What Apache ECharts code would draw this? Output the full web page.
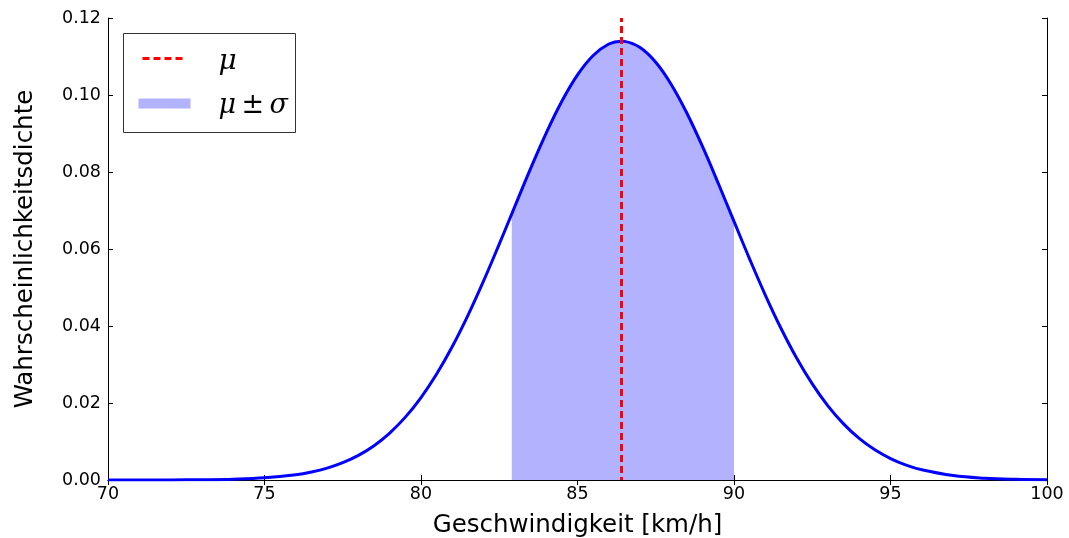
<!DOCTYPE html>
<html>
<head>
<meta charset="utf-8">
<script src="https://cdn.jsdelivr.net/npm/echarts@6/dist/echarts.min.js"></script>
<style>
  html, body { margin: 0; padding: 0; background: #fff; }
  #chart { width: 1069px; height: 538px; }
</style>
</head>
<body>
<div id="chart"></div>
<script>
// Speed values (km/h) and the probability density at each speed
const speedKmh = [70, 71, 72, 73, 74, 75, 76, 76.5, 77, 77.5, 78, 78.5, 79, 79.5, 80, 80.5,
  81, 81.5, 82, 82.5, 82.9, 83, 83.5, 84, 84.5, 85, 85.5, 86, 86.4, 86.5, 87, 87.5, 88, 88.5,
  89, 89.5, 90, 90.5, 91, 91.5, 92, 92.5, 93, 93.5, 94, 94.5, 95, 95.5, 96, 97, 98, 99, 100];
const density = [0.000002, 0.000007, 0.000024, 0.000075, 0.000214, 0.000567, 0.00138, 0.00209,
  0.00309, 0.00450, 0.00640, 0.00892, 0.01220, 0.01633, 0.02142, 0.02753, 0.03467, 0.04278,
  0.05172, 0.06127, 0.06913, 0.07111, 0.08086, 0.09010, 0.09837, 0.10522, 0.11027, 0.11324,
  0.11398, 0.11393, 0.11232, 0.10849, 0.10267, 0.09520, 0.08650, 0.07700, 0.06716,
  0.05739, 0.04805, 0.03942, 0.03169, 0.02496, 0.01926, 0.01457, 0.01079, 0.00783, 0.00557,
  0.00388, 0.00265, 0.00116, 0.00047, 0.00017, 0.00006];

// Mean and the one-sigma band limits
const muValue = 86.4;
const bandLow = 82.9;
const bandHigh = 90.0;

// Axis ticks
const xTicks = [70, 75, 80, 85, 90, 95, 100];
const yTicks = [0.00, 0.02, 0.04, 0.06, 0.08, 0.10, 0.12];

const curve = speedKmh.map((x, i) => [x, density[i]]);
const band = curve.filter(p => p[0] >= bandLow && p[0] <= bandHigh);

const chart = echarts.init(document.getElementById('chart'), null, { renderer: 'canvas' });

const tickFont = { fontFamily: 'DejaVu Sans', fontSize: 17.5, color: '#000' };
const axisLine = { show: true, lineStyle: { color: '#000', width: 1 } };
const axisTick = { show: true, inside: true, length: 5, lineStyle: { color: '#000', width: 1 } };

const xBase = {
  type: 'value',
  min: xTicks[0],
  max: xTicks[xTicks.length - 1],
  interval: xTicks[1] - xTicks[0],
  splitLine: { show: false },
  axisLine: axisLine,
  axisTick: axisTick
};
const yBase = {
  type: 'value',
  min: yTicks[0],
  max: yTicks[yTicks.length - 1],
  interval: yTicks[1] - yTicks[0],
  splitLine: { show: false },
  axisLine: axisLine,
  axisTick: axisTick
};

chart.setOption({
  animation: false,
  backgroundColor: '#fff',
  grid: { left: 108, right: 22, top: 18, bottom: 58, containLabel: false, outerBoundsMode: 'none' },
  xAxis: [
    Object.assign({}, xBase, {
      position: 'bottom',
      name: 'Geschwindigkeit [km/h]',
      nameLocation: 'middle',
      nameGap: 33,
      nameTextStyle: { fontFamily: 'DejaVu Sans', fontSize: 24.5, color: '#000', verticalAlign: 'top' },
      axisLabel: Object.assign({ margin: 5, formatter: v => String(v) }, tickFont)
    }),
    Object.assign({}, xBase, { position: 'top', axisLabel: { show: false } })
  ],
  yAxis: [
    Object.assign({}, yBase, {
      position: 'left',
      name: 'Wahrscheinlichkeitsdichte',
      nameLocation: 'middle',
      nameGap: 70,
      nameTextStyle: { fontFamily: 'DejaVu Sans', fontSize: 24.5, color: '#000' },
      axisLabel: Object.assign({ margin: 7, formatter: v => v.toFixed(2) }, tickFont)
    }),
    Object.assign({}, yBase, { position: 'right', axisLabel: { show: false } })
  ],
  series: [
    {
      name: 'band',
      type: 'line',
      xAxisIndex: 0,
      yAxisIndex: 0,
      data: band,
      smooth: 0.4,
      symbol: 'none',
      lineStyle: { width: 0, opacity: 0 },
      areaStyle: { color: '#b2b2ff', opacity: 1, origin: 'start' },
      z: 1
    },
    {
      name: 'curve',
      type: 'line',
      xAxisIndex: 0,
      yAxisIndex: 0,
      data: curve,
      smooth: 0.4,
      symbol: 'none',
      lineStyle: { color: '#0000ff', width: 3 },
      z: 2,
      markLine: {
        silent: true,
        symbol: ['none', 'none'],
        label: { show: false },
        lineStyle: { color: '#ff0000', width: 3, type: [7, 4], dashOffset: 4 },
        data: [{ xAxis: muValue }],
        z: 5
      }
    }
  ],
  graphic: [
    {
      type: 'group',
      left: 123,
      top: 33,
      children: [
        {
          type: 'rect',
          shape: { x: 0, y: 0, width: 172, height: 99 },
          style: { fill: '#fff', stroke: '#333', lineWidth: 1 }
        },
        {
          type: 'line',
          shape: { x1: 19, y1: 25, x2: 62, y2: 25 },
          style: { stroke: '#ff0000', lineWidth: 3, lineDash: [7, 4] }
        },
        {
          type: 'rect',
          shape: { x: 15, y: 65, width: 52, height: 10 },
          style: { fill: '#b2b2ff' }
        },
        {
          type: 'text',
          x: 95,
          y: 28,
          style: {
            text: 'μ',
            fontFamily: 'DejaVu Serif',
            fontStyle: 'italic',
            fontSize: 28,
            fill: '#000',
            verticalAlign: 'middle'
          }
        },
        {
          type: 'text',
          x: 95,
          y: 72,
          style: {
            text: 'μ\u2009±\u2009σ',
            fontFamily: 'DejaVu Serif',
            fontStyle: 'italic',
            fontSize: 27,
            fill: '#000',
            verticalAlign: 'middle'
          }
        }
      ]
    }
  ]
});
</script>
</body>
</html>
